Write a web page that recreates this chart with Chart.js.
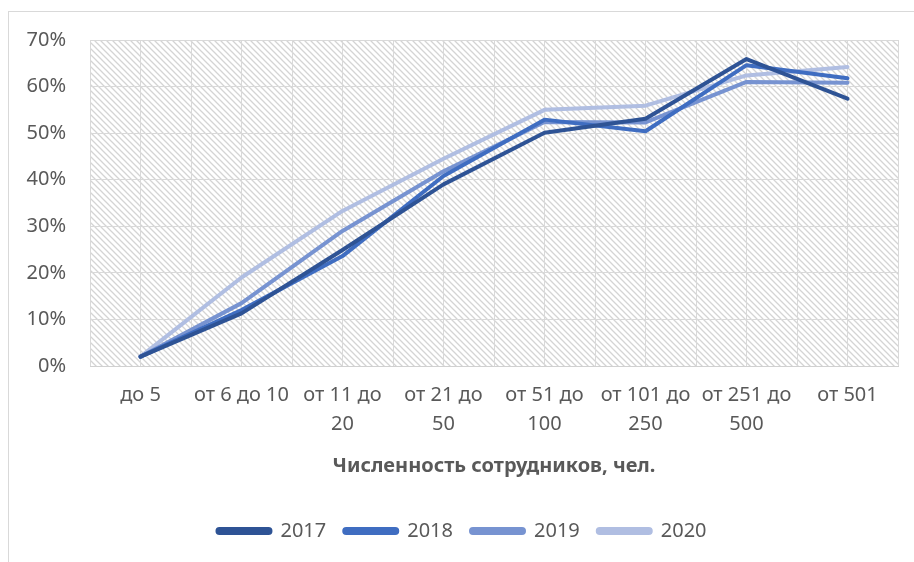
<!DOCTYPE html>
<html>
<head>
<meta charset="utf-8">
<script src="https://cdn.jsdelivr.net/npm/chart.js@4.4.1/dist/chart.umd.min.js"></script>
<style>
  html, body { margin: 0; padding: 0; background: #fff; overflow: hidden; }
  #wrap { position: relative; width: 914px; height: 562px; }
  #frame { position: absolute; left: 8px; top: 11px; width: 1000px; height: 1000px; border: 1px solid #d9d9d9; box-sizing: border-box; }
  canvas { position: absolute; left: 0; top: 0; }
</style>
</head>
<body>
<div id="wrap">
  <div id="frame"></div>
  <canvas id="chart" width="914" height="562"></canvas>
</div>
<script>
const categories = ['до 5', 'от 6 до 10', 'от 11 до 20', 'от 21 до 50', 'от 51 до 100', 'от 101 до 250', 'от 251 до 500', 'от 501'];
const tickLabels = [['до 5'], ['от 6 до 10'], ['от 11 до', '20'], ['от 21 до', '50'], ['от 51 до', '100'], ['от 101 до', '250'], ['от 251 до', '500'], ['от 501']];
const years = ['2017', '2018', '2019', '2020'];
const values2017 = [2.0, 11.3, 24.9, 39.0, 50.1, 53.1, 65.9, 57.4];
const values2018 = [2.0, 12.0, 23.6, 40.8, 52.9, 50.4, 64.6, 61.8];
const values2019 = [2.0, 13.5, 29.0, 41.8, 52.4, 52.3, 61.0, 60.8];
const values2020 = [2.0, 19.0, 33.3, 44.5, 55.0, 55.9, 62.4, 64.2];
const yTicks = [0, 10, 20, 30, 40, 50, 60, 70];
const colors = ['#2e5395', '#3f6dc1', '#7793d1', '#b0bee2'];

const seriesValues = [values2017, values2018, values2019, values2020];

// diagonal hatch for the plot area
function makeHatch() {
  const s = 6;
  const c = document.createElement('canvas');
  c.width = s; c.height = s;
  const g = c.getContext('2d');
  g.fillStyle = '#ffffff';
  g.fillRect(0, 0, s, s);
  g.strokeStyle = '#d4d4d4';
  g.lineWidth = 1.3;
  g.beginPath();
  g.moveTo(-1, -1); g.lineTo(s + 1, s + 1);
  g.moveTo(-1, s - 1); g.lineTo(1, s + 1);
  g.moveTo(s - 1, -1); g.lineTo(s + 1, 1);
  g.stroke();
  return g.createPattern(c, 'repeat');
}

const hatchPlugin = {
  id: 'hatch',
  beforeDraw(chart) {
    const { ctx, chartArea } = chart;
    ctx.save();
    ctx.fillStyle = makeHatch();
    ctx.fillRect(chartArea.left, chartArea.top, chartArea.right - chartArea.left, chartArea.bottom - chartArea.top);
    ctx.restore();
  }
};

const textColor = '#595959';
const fontFamily = '"Noto Sans", sans-serif';

new Chart(document.getElementById('chart').getContext('2d'), {
  type: 'line',
  data: {
    datasets: years.map((year, i) => ({
      label: year,
      data: seriesValues[i].map((v, j) => ({ x: j, y: v })),
      borderColor: colors[i],
      backgroundColor: colors[i],
      borderWidth: 4,
      borderCapStyle: 'round',
      borderJoinStyle: 'round',
      pointRadius: 0,
      tension: 0,
      fill: false
    }))
  },
  options: {
    responsive: false,
    animation: false,
    layout: {
      padding: { top: 40, right: 16, bottom: 11, left: 26 }
    },
    scales: {
      x: {
        type: 'linear',
        min: -0.5,
        max: categories.length - 0.5,
        afterBuildTicks: (scale) => {
          scale.ticks = [];
          for (let v = -0.5; v <= categories.length - 0.5; v += 0.5) {
            scale.ticks.push({ value: v });
          }
        },
        ticks: {
          autoSkip: false,
          maxRotation: 0,
          padding: 15,
          color: textColor,
          font: { family: fontFamily, size: 20, lineHeight: 1.45 },
          callback: (value) => Number.isInteger(value) ? tickLabels[value] : ''
        },
        grid: { color: '#d9d9d9', lineWidth: 1, drawTicks: false },
        border: { color: '#d0d0d0' },
        title: {
          display: true,
          text: 'Численность сотрудников, чел.',
          color: textColor,
          font: { family: fontFamily, size: 20, weight: 'bold' },
          padding: { top: 0, bottom: 25 }
        }
      },
      y: {
        min: 0,
        max: 70,
        afterBuildTicks: (scale) => {
          scale.ticks = yTicks.map(v => ({ value: v }));
        },
        afterFit: (scale) => {
          scale.width = 64;
        },
        ticks: {
          padding: 24,
          color: textColor,
          font: { family: fontFamily, size: 20 },
          callback: (value) => value + '%'
        },
        grid: { color: '#d9d9d9', lineWidth: 1, drawTicks: false },
        border: { display: false }
      }
    },
    plugins: {
      legend: {
        position: 'bottom',
        labels: {
          boxWidth: 53,
          boxHeight: 4,
          useBorderRadius: true,
          borderRadius: 2,
          padding: 18,
          color: textColor,
          font: { family: fontFamily, size: 20 }
        }
      },
      tooltip: { enabled: false }
    }
  },
  plugins: [hatchPlugin]
});
</script>
</body>
</html>
